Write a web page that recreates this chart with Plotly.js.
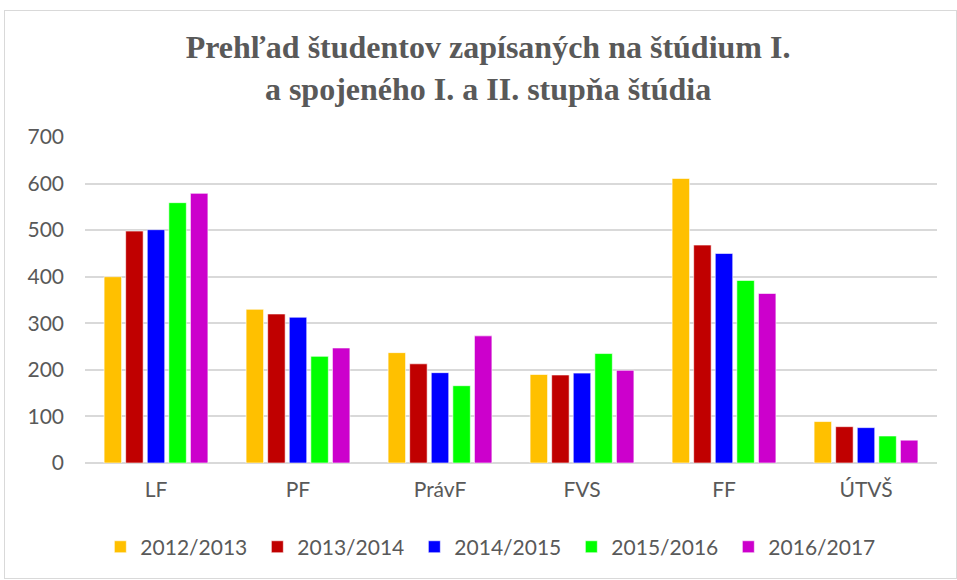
<!DOCTYPE html>
<html><head><meta charset="utf-8">
<script src="https://cdn.plot.ly/plotly-3.0.1.min.js"></script>
<style>
html,body{margin:0;padding:0;background:#fff;}
#chart{position:absolute;left:0;top:0;width:957px;height:580px;}
#frame{position:absolute;left:4px;top:10px;width:951px;height:567px;border:1px solid #d9d9d9;pointer-events:none;}
</style></head>
<body>
<div id="chart"></div>
<div id="frame"></div>
<script>
const categories = ["LF", "PF", "PrávF", "FVS", "FF", "ÚTVŠ"];
const seriesNames = ["2012/2013", "2013/2014", "2014/2015", "2015/2016", "2016/2017"];
const v2012 = [400, 330, 237, 190, 611, 89];
const v2013 = [498, 320, 213, 189, 468, 78];
const v2014 = [501, 313, 194, 193, 450, 76];
const v2015 = [559, 229, 166, 235, 392, 58];
const v2016 = [579, 247, 273, 199, 364, 49];
const colors = ["#FFC000", "#C00000", "#0000FF", "#00FF00", "#CC00CC"];

const allValues = [v2012, v2013, v2014, v2015, v2016];
const traces = allValues.map((vals, i) => ({
  type: "bar",
  name: seriesNames[i],
  x: categories,
  y: vals,
  marker: {color: colors[i], line: {color: "rgba(255,255,255,0.6)", width: 1}},
  hoverinfo: "x+y+name"
}));

const layout = {
  width: 957, height: 580,
  paper_bgcolor: "rgba(0,0,0,0)", plot_bgcolor: "#fff",
  margin: {l: 85, r: 20, t: 137, b: 117},
  font: {family: "Lato, 'Open Sans', sans-serif", size: 21, color: "#595959"},
  title: {
    text: "Prehľad študentov zapísaných na štúdium I.<br>a spojeného I. a II. stupňa štúdia",
    font: {family: "'Liberation Serif', 'Times New Roman', serif", size: 32, color: "#595959", weight: "bold"},
    x: 0.51, xanchor: "center", xref: "container",
    y: 0.90, yanchor: "top", yref: "container"
  },
  barmode: "group",
  bargap: 0.24,
  bargroupgap: 0.19,
  xaxis: {
    showgrid: false, showline: false, zeroline: false, ticks: "",
    tickfont: {size: 21, color: "#595959"}, fixedrange: true,
    ticklabelstandoff: 12
  },
  yaxis: {
    range: [0, 700], dtick: 100, tick0: 0,
    showgrid: true, gridcolor: "#d9d9d9", gridwidth: 1.5,
    zeroline: true, zerolinecolor: "#d9d9d9", zerolinewidth: 1.5,
    showline: false, ticks: "",
    tickfont: {size: 21, color: "#595959"}, fixedrange: true,
    ticklabelstandoff: 20
  },
  legend: {
    orientation: "h", x: 0.018, xanchor: "left", y: -0.258, yanchor: "middle",
    entrywidth: 112, entrywidthmode: "pixels",
    font: {size: 21, color: "#595959"}, itemclick: false, itemdoubleclick: false,
    traceorder: "normal"
  },
  showlegend: true
};

Plotly.newPlot("chart", traces, layout, {displayModeBar: false});
</script>
</body></html>
